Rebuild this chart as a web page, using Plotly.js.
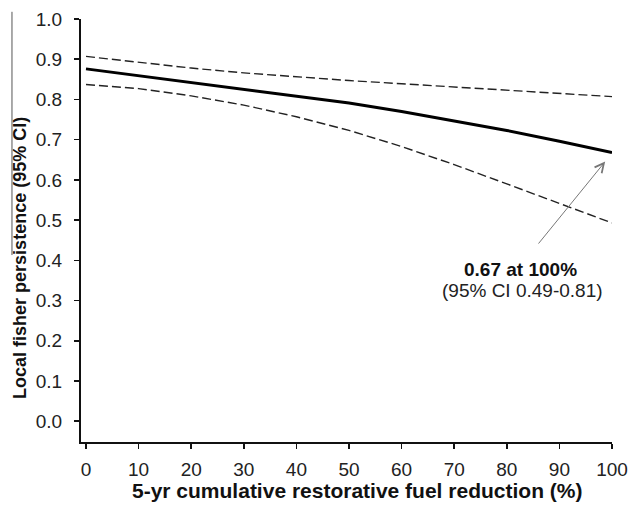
<!DOCTYPE html>
<html>
<head>
<meta charset="utf-8">
<script src="https://cdn.plot.ly/plotly-3.0.1.min.js"></script>
<style>html,body{margin:0;padding:0;background:#fff;}#chart{width:632px;height:508px;}</style>
</head>
<body>
<div id="chart"></div>
<script>
var reduction = [0, 10, 20, 30, 40, 50, 60, 70, 80, 90, 100];
var persistence = [0.876, 0.859, 0.841, 0.824, 0.808, 0.791, 0.770, 0.747, 0.723, 0.696, 0.668];
var upperCI = [0.907, 0.892, 0.878, 0.866, 0.856, 0.847, 0.839, 0.831, 0.823, 0.815, 0.807];
var lowerCI = [0.837, 0.827, 0.809, 0.786, 0.757, 0.723, 0.683, 0.638, 0.590, 0.541, 0.493];
var xTicks = [0, 10, 20, 30, 40, 50, 60, 70, 80, 90, 100];
var yTicks = [0.0, 0.1, 0.2, 0.3, 0.4, 0.5, 0.6, 0.7, 0.8, 0.9, 1.0];
var labelLine1 = "<b>0.67 at 100%</b>";
var labelLine2 = "(95% CI 0.49-0.81)";
var xTitle = "<b>5-yr cumulative restorative fuel reduction (%)</b>";
var yTitle = "<b>Local fisher persistence (95% CI)</b>";

var font = "Liberation Sans, Arial, sans-serif";
var traces = [
  {x: reduction, y: upperCI, mode: "lines", line: {color: "#222", width: 1.4, dash: "9px,4px"}, cliponaxis: false},
  {x: reduction, y: lowerCI, mode: "lines", line: {color: "#222", width: 1.4, dash: "9px,4px"}, cliponaxis: false},
  {x: reduction, y: persistence, mode: "lines", line: {color: "#000", width: 3}, cliponaxis: false}
];
var layout = {
  width: 632, height: 508,
  margin: {l: 81, r: 20, t: 19, b: 66},
  showlegend: false,
  paper_bgcolor: "#fff", plot_bgcolor: "#fff",
  font: {family: font, color: "#222", size: 19},
  xaxis: {
    range: [-0.95, 100], tickvals: xTicks, ticktext: xTicks.map(String),
    showgrid: false, zeroline: false, showline: true, linecolor: "#111", linewidth: 2,
    ticks: "outside", ticklen: 5, tickwidth: 1.5, tickcolor: "#111",
    tickfont: {size: 19, color: "#222"}, ticklabelstandoff: 4
  },
  yaxis: {
    range: [-0.0516, 1.0], tickvals: yTicks, ticktext: yTicks.map(function(v){return v.toFixed(1);}),
    showgrid: false, zeroline: false, showline: true, linecolor: "#111", linewidth: 2,
    ticks: "outside", ticklen: 5, tickwidth: 1.5, tickcolor: "#111",
    tickfont: {size: 19, color: "#222"}, ticklabelstandoff: 8
  },
  annotations: [
    {x: 98.7, y: 0.6455, ax: 85.8, ay: 0.438, xref: "x", yref: "y", axref: "x", ayref: "y",
     text: "", showarrow: true, arrowhead: 5, arrowsize: 1.8, arrowwidth: 1, arrowcolor: "#777"},
    {x: 82.66, y: 0.3771, xref: "x", yref: "y", text: labelLine1, showarrow: false,
     font: {size: 19, color: "#111"}, xanchor: "center", yanchor: "middle"},
    {x: 82.93, y: 0.3249, xref: "x", yref: "y", text: labelLine2, showarrow: false,
     font: {size: 19, color: "#222"}, xanchor: "center", yanchor: "middle"},
    {x: 0.5207, y: -0.115, xref: "paper", yref: "paper", text: xTitle, showarrow: false,
     font: {size: 21, color: "#111"}, xanchor: "center", yanchor: "middle"},
    {x: -0.115, y: 0.435, xref: "paper", yref: "paper", text: yTitle, showarrow: false, textangle: -90,
     font: {size: 18, color: "#111"}, xanchor: "center", yanchor: "middle"}
  ],
  shapes: [
    {type: "line", xref: "paper", yref: "paper", x0: -0.13, x1: -0.13, y0: 1.017, y1: 0.442,
     line: {color: "#555", width: 1}}
  ]
};
Plotly.newPlot("chart", traces, layout, {displayModeBar: false, staticPlot: true});
</script>
</body>
</html>
